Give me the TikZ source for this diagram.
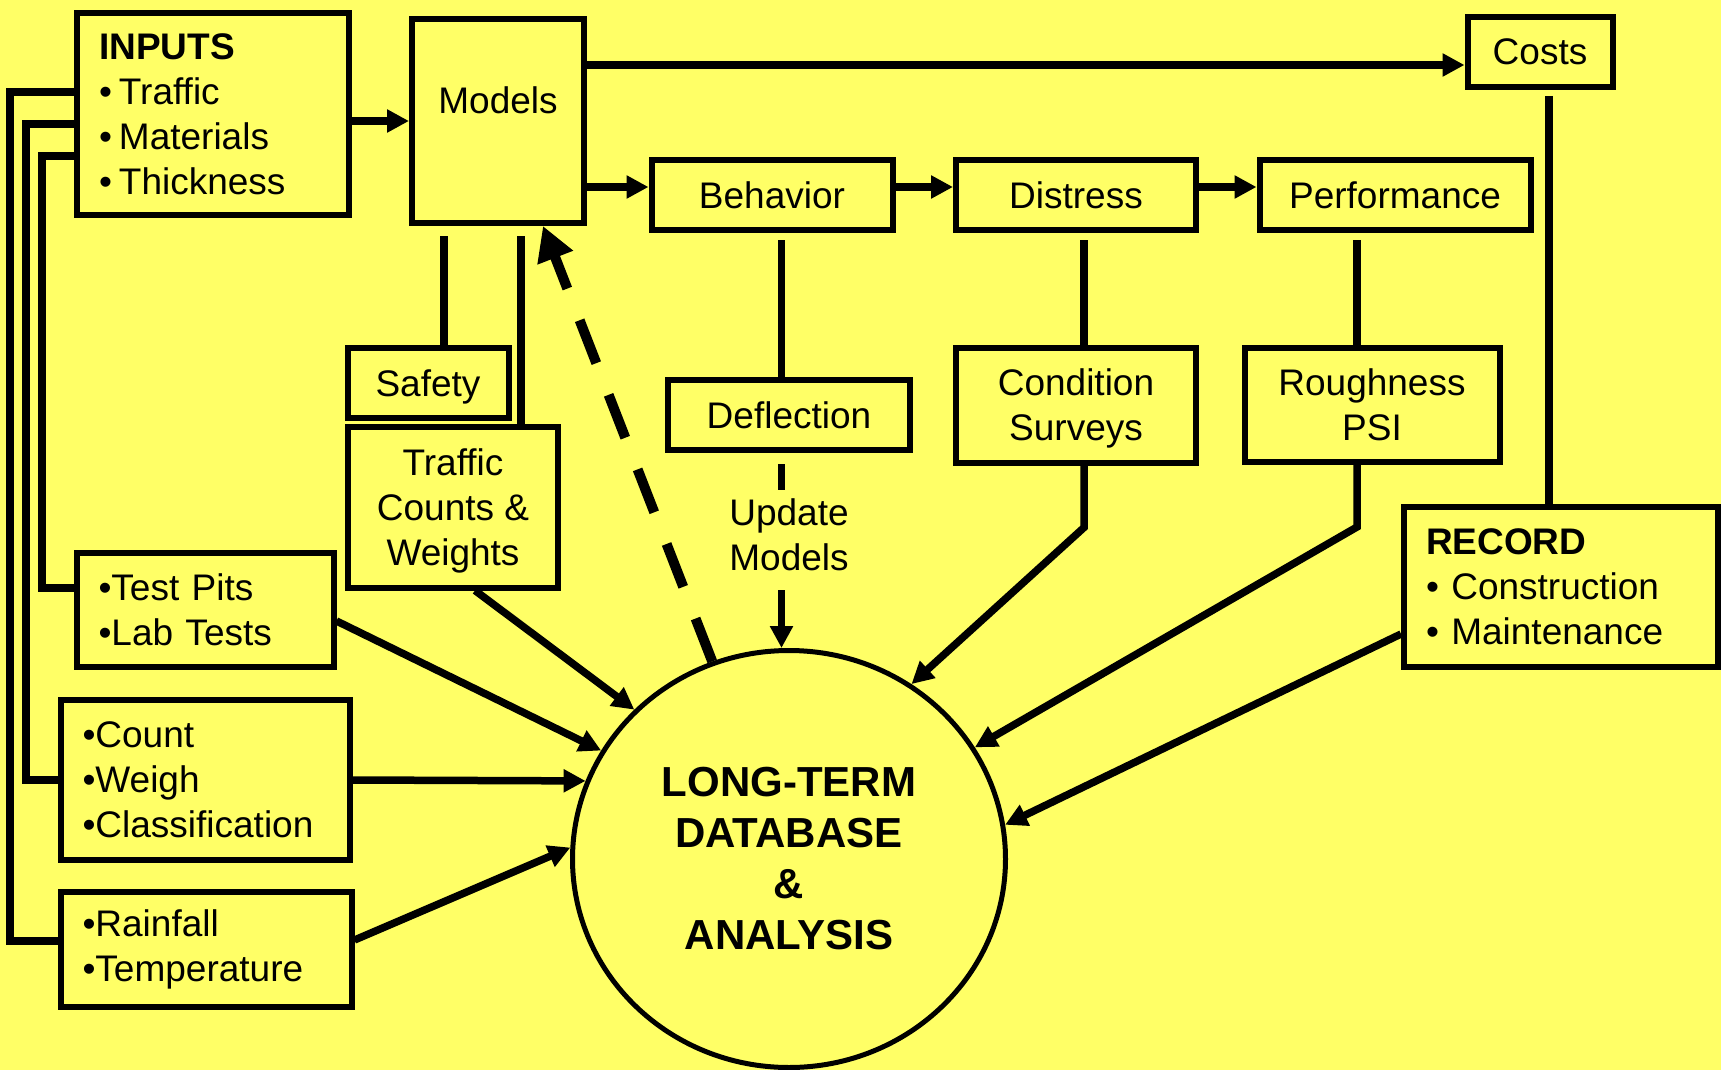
\documentclass[tikz,border=0pt]{standalone}
\usepackage{fontspec}
\setmainfont{Liberation Sans}
\usetikzlibrary{arrows.meta,shapes.geometric}
\definecolor{sheet}{RGB}{255,255,102}
\newcommand{\boxfont}{\fontsize{37pt}{45pt}\selectfont}
\newcommand{\hubfont}{\fontsize{42pt}{51pt}\selectfont\bfseries}
\newcommand{\dotitem}{•\hspace{7pt}}

\begin{document}
\begin{tikzpicture}[x=1pt, y=-1pt,
    block/.style={rectangle, draw, line width=6pt, font=\boxfont, align=center, inner sep=0pt,
        text depth=0pt},
    listbox/.style={rectangle, draw, line width=6pt, font=\boxfont, align=left,
        inner xsep=22pt, inner ysep=0pt},
    hub/.style={ellipse, draw, line width=5pt, font=\hubfont, align=center,
        minimum width=433pt, minimum height=417pt, inner sep=0pt},
    link/.style={line width=7.5pt},
    feed/.style={link, ->},
    guess/.style={line width=10pt, dash pattern=on 46pt off 34pt,
        -{Triangle[length=34pt,width=36pt]}},
    >={Triangle[length=22pt,width=22pt]}
    ]
    \useasboundingbox (0,0) rectangle (1721,1070);
    \fill[sheet] (0,0) rectangle (1721,1070);

    \node (inputs) [listbox, text width=228pt, minimum height=202pt] at (213,114)
        {\textbf{INPUTS}\\\dotitem Traffic\\\dotitem Materials\\\dotitem Thickness};
    \node (models) [block, minimum width=172pt, minimum height=204pt, text depth=42pt] at (498,121) {Models};
    \node (costs) [block, minimum width=145pt, minimum height=70pt] at (1540,52) {Costs};
    \node (behavior) [block, minimum width=241pt, minimum height=70pt] at (772,195) {Behavior};
    \node (distress) [block, minimum width=240pt, minimum height=70pt] at (1076,195) {Distress};
    \node (performance) [block, minimum width=271pt, minimum height=70pt] at (1395,195) {Performance};
    \node (safety) [block, minimum width=161pt, minimum height=70pt] at (428,383) {Safety};
    \node (traffic) [block, minimum width=210pt, minimum height=161pt] at (453,507) {Traffic\\Counts \&\\Weights};
    \node (deflection) [block, minimum width=242pt, minimum height=70pt] at (789,415) {Deflection};
    \node (condition) [block, minimum width=240pt, minimum height=115pt] at (1076,405) {Condition\\Surveys};
    \node (roughness) [block, minimum width=255pt, minimum height=114pt] at (1372,405) {Roughness\\PSI};
    \node (record) [listbox, text width=270pt, minimum height=160pt] at (1561,587)
        {\textbf{RECORD}\\• Construction\\• Maintenance};
    \node (pits) [listbox, text width=213pt, minimum height=114pt] at (205,610) {•Test Pits\\•Lab Tests};
    \node (count) [listbox, text width=245pt, minimum height=160pt] at (205,780) {•Count\\•Weigh\\•Classification};
    \node (weather) [listbox, text width=247pt, minimum height=115pt] at (206,949) {•Rainfall\\•Temperature};
    \node (db) [hub] at (789,859) {LONG-TERM\\DATABASE\\\&\\ANALYSIS};
    \node (update) [font=\boxfont, align=center, inner sep=0pt] at (789,535) {Update\\Models};

    % lines back to the inputs
    \draw[link] ([yshift=22pt]inputs.west) -- ++(-64,0) |- ([yshift=8pt]weather.west);
    \draw[link] ([yshift=-10pt]inputs.west) -- ++(-48,0) |- (count.west);
    \draw[link] ([yshift=-42pt]inputs.west) -- ++(-32,0) |- ([yshift=22pt]pits.west);

    \draw[feed] (models.west -| inputs.east) -- (models.west);
    \draw[feed] ([yshift=-13pt]costs.west -| models.east) -- ([yshift=-13pt]costs.west);
    \draw[feed] ([yshift=8pt]behavior.west -| models.east) -- ([yshift=8pt]behavior.west);
    \draw[feed] ([yshift=8pt]behavior.east) -- ([yshift=8pt]distress.west);
    \draw[feed] ([yshift=8pt]distress.east) -- ([yshift=8pt]performance.west);

    \draw[link, shorten >=10pt] ([xshift=16pt]safety.north) -- ([xshift=16pt]safety.north |- models.south);
    \draw[link, shorten >=10pt] ([xshift=68pt]traffic.north) -- ([xshift=68pt]traffic.north |- models.south);
    \draw[link, shorten >=7pt] ([xshift=-7.5pt]deflection.north) -- ([xshift=-7.5pt]deflection.north |- behavior.south);
    \draw[link, shorten >=7pt] ([xshift=8pt]condition.north) -- ([xshift=8pt]condition.north |- distress.south);
    \draw[link, shorten >=7pt] ([xshift=-15pt]roughness.north) -- ([xshift=-15pt]roughness.north |- performance.south);
    \draw[link, shorten <=6pt] ([xshift=9pt]costs.south) -- ([xshift=9pt]costs.south |- record.north);

    \draw[link, shorten <=11pt, shorten >=9pt] ([xshift=-7.5pt]deflection.south) -- ([xshift=-7.5pt]update.north);
    \draw[feed, shorten <=19pt] ([xshift=-7.5pt]update.south) -- ([xshift=-7.5pt]update.south |- db.north);

    % into the database
    \draw[feed] ([xshift=8pt]condition.south) -- ++(0,62) -- (db.55);
    \draw[feed] ([xshift=-15pt]roughness.south) -- ++(0,62) -- (db.31);
    \draw[feed] ([yshift=-47pt]record.west) -- (db.9);
    \draw[feed] ([yshift=-11pt]pits.east) -- (db.150);
    \draw[feed] ([xshift=22pt]traffic.south) -- (db.136);
    \draw[feed] (count.east) -- (db.159);
    \draw[feed] ([yshift=9pt]weather.east) -- (db.177);
    \draw[guess] (db) -- ([xshift=45pt]models.south);
\end{tikzpicture}
\end{document}
